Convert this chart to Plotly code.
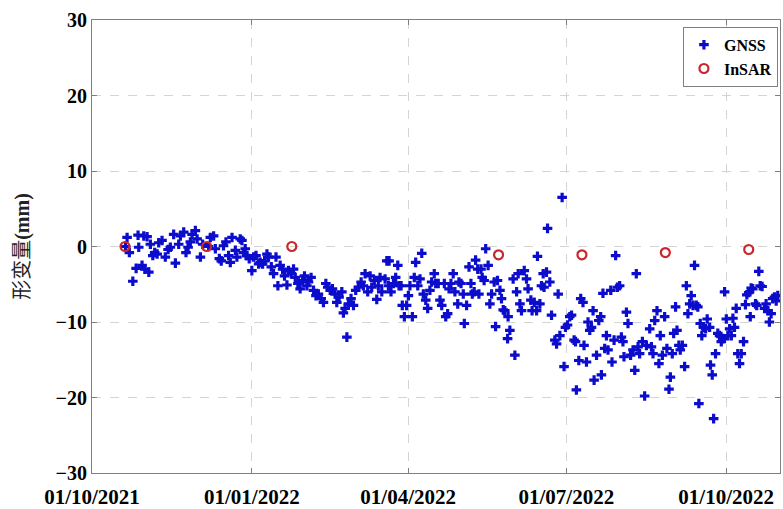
import pandas as pd
import plotly.graph_objects as go

START = "2021-10-01"

# GNSS: days since START, deformation (mm)
gnss_day = [
    19.3, 20.2, 21.5, 23.5, 25.4, 26.5, 26.9, 28.8, 29.8, 30.4, 31.7, 32.7, 33.6, 35.0, 36.1,
    37.5, 38.4, 40.3, 42.2, 43.8, 45.1, 47.0, 48.0, 49.9, 50.9, 52.8, 54.1, 55.3, 56.6, 57.6,
    59.5, 60.5, 62.4, 63.7, 67.1, 68.1, 70.0, 71.0, 73.3, 74.4, 75.7, 77.1, 78.6, 79.6, 80.6,
    82.5, 83.4, 85.3, 86.3, 87.2,
    88.2, 89.2, 90.5, 92.0, 93.0, 94.4, 95.9, 96.8, 98.2, 99.3, 100.7, 101.6, 103.2, 104.5,
    105.9, 107.0, 108.3, 109.7, 110.8, 112.2, 113.1, 114.7, 116.0, 117.0, 118.5, 119.8, 121.2,
    122.3, 123.7, 124.6, 126.1, 127.5, 128.9, 130.3, 131.9, 133.2, 134.6, 135.7, 137.1, 138.4,
    139.9, 140.9, 142.2, 143.8, 144.7, 145.7, 146.7, 147.6, 149.1, 150.5, 151.8, 153.3, 154.9,
    156.2, 157.2, 158.7, 160.1, 161.0, 162.5,
    163.9, 164.8, 165.8, 166.8, 168.7, 169.7, 170.6, 171.0, 172.1, 173.5, 174.8, 176.0, 176.7,
    177.9, 178.6, 179.8, 181.1, 182.1, 183.0, 184.4, 185.5, 186.3, 187.5, 188.8, 189.8, 190.7,
    192.1, 193.2, 194.5, 195.5, 197.0, 197.8, 199.3, 200.3, 201.3, 202.8, 203.6, 204.7, 205.5,
    206.6, 207.9, 208.9, 210.5, 211.2, 212.4, 213.7, 214.3, 215.6, 217.0, 218.1, 218.9, 220.0,
    220.8, 222.0, 222.7, 223.9, 224.6, 225.7, 226.6, 228.0, 229.0, 230.0, 231.5, 232.3, 233.4,
    234.8, 235.7, 236.7,
    237.6, 239.2, 239.5, 240.5, 242.4, 243.4, 244.4, 245.3, 246.3, 247.2, 248.8, 250.1, 251.0,
    252.6, 253.3, 254.5, 255.9, 256.4, 257.8, 258.7, 259.7, 260.2, 261.6, 262.2, 263.5, 264.5,
    266.4, 267.4, 268.3, 269.3, 270.6, 271.7, 272.5, 273.7, 275.0, 276.0, 277.5, 278.3, 278.8,
    280.2, 281.3, 282.6, 283.2, 284.6, 285.5, 286.5, 287.5, 288.4, 289.0, 290.4, 291.7, 292.8,
    293.2, 294.1, 295.1, 296.1, 297.0, 298.6, 299.3, 300.5, 301.4, 302.4, 303.7, 304.7, 305.6,
    306.2, 307.6, 308.5, 310.0, 311.4, 312.4, 313.3, 314.3,
    315.2, 316.8, 318.1, 319.1, 321.0, 322.0, 322.9, 323.9, 325.2, 326.3, 327.1, 328.3, 329.6,
    330.9, 332.1, 332.9, 334.0, 334.8, 335.9, 336.7, 337.8, 338.6, 339.8, 341.1, 342.1, 343.0,
    344.0, 344.9, 345.9, 346.8, 347.8, 348.7, 349.3, 350.1, 351.0, 352.0, 353.2, 354.1, 355.5,
    356.0, 357.0, 357.8, 358.9, 360.2, 361.2, 362.2, 363.1, 364.1, 365.1, 366.0, 367.0, 368.0,
    368.9, 369.8, 370.8, 371.7, 372.7, 373.7, 375.0, 376.1, 376.9, 378.0, 378.9, 379.4, 380.3,
    381.9, 382.6, 383.8, 384.6, 385.7, 387.1, 388.0, 389.0, 389.9, 390.9, 391.8, 392.8, 393.8,
    394.7,
]
gnss_mm = [
    0.0, 1.2, -0.8, -4.6, -2.9, 1.5, -0.1, -2.5, 1.4, -3.0, 1.3, -3.4, 0.3, -1.2, -0.8,
    -1.0, 0.5, 0.8, -1.4, -0.4, -0.1, 1.6, -2.2, 0.3, 1.4, 1.9, -0.8, -0.1, 0.6, 1.6,
    2.1, 1.0, -1.4, 0.3, 0.0, 1.2, 1.4, -0.3, -1.6, -1.9, 0.1, 0.6, -1.2, -2.1, 1.2,
    -0.5, -1.4, 1.0, 0.8, -0.8,
    -0.3, -1.2, -1.6, -3.2, -1.4, -1.2, -2.3, -2.1, -2.3, -1.9, -1.0, -1.4, -2.7, -3.6,
    -1.4, -5.2, -2.5, -3.0, -3.9, -5.1, -3.2, -3.6, -3.0, -4.1, -4.9, -5.6, -4.5,
    -3.9, -5.2, -4.7, -4.1, -5.8, -6.5, -6.3, -6.9, -7.4, -4.9, -5.4, -5.8, -5.6,
    -6.3, -7.4, -6.7, -6.0, -8.8, -8.2, -12.0, -7.6, -6.9, -7.8, -5.8, -5.4, -4.7,
    -5.2, -3.6, -6.0, -3.9, -5.4, -4.5,
    -7.0, -5.2, -4.1, -6.0, -4.3, -1.9, -5.2, -1.9, -6.0, -4.9, -4.1, -2.5, -5.2,
    -5.2, -7.8, -9.3, -7.8, -6.5, -5.2, -9.3, -4.1, -2.1, -5.2, -4.3, -0.9, -6.3,
    -7.1, -8.2, -5.8, -4.7, -3.6, -4.9, -4.9, -7.1, -7.8, -4.9, -9.3, -8.9, -5.6,
    -4.9, -3.6, -6.0, -7.6, -4.7, -4.9, -6.3, -10.2, -7.8, -2.7, -4.9, -6.3, -6.0,
    -1.8, -3.0, -6.3, -3.0, -4.1, -4.5, -0.3, -2.5, -7.6, -6.3, -4.7, -10.6, -4.5,
    -5.8, -6.9, -8.4,
    -8.5, -12.2, -9.3, -11.1, -4.3, -14.4, -6.0, -3.6, -7.6, -8.5, -3.2, -4.3, -5.6,
    -7.1, -8.5, -7.4, -8.5, -1.3, -7.6, -5.2, -3.6, -5.4, -3.4, 2.4, -4.7, -9.1,
    -12.4, -12.9, -6.3, -11.8, 6.5, -15.9, -10.7, -10.4, -9.3, -9.1, -12.4, -12.6, -19.0,
    -15.1, -6.9, -7.4, -13.1, -15.3, -10.0, -11.1, -10.7, -8.5, -17.7, -14.4, -9.8, -9.3,
    -17.0, -6.2, -13.5, -11.8, -13.7, -5.8, -15.3, -12.4, -1.2, -5.4, -5.2, -12.0, -12.6,
    -14.6, -8.7, -10.2, -14.4, -13.7, -16.4, -3.6, -13.3,
    -14.2, -12.6, -19.8, -13.1, -10.9, -13.3, -14.2, -9.8, -8.5, -15.5, -11.8, -14.4, -9.3,
    -13.5, -18.9, -17.3, -14.2, -11.5, -8.0, -11.1, -13.1, -13.7, -13.1, -15.9, -5.2, -8.9,
    -7.6, -6.5, -7.8, -2.5, -7.8, -8.0, -20.8, -10.2, -11.8, -10.7, -10.9, -9.6, -10.7,
    -15.7, -17.0, -22.8, -14.2, -11.5, -11.8, -12.6, -12.2, -6.0, -9.6, -11.8, -10.9, -11.8,
    -9.5, -10.7, -8.2, -14.2, -15.5, -14.2, -12.6, -7.7, -6.4, -6.1, -9.3, -5.5, -5.6,
    -7.6, -7.8, -3.3, -5.2, -5.3, -8.2, -7.6, -8.5, -10.0, -8.9, -6.9, -6.7, -7.2,
    -6.5,
]

# InSAR acquisitions
insar_date = ["2021-10-20", "2021-12-06", "2022-01-24", "2022-05-23",
              "2022-07-10", "2022-08-27", "2022-10-14"]
insar_mm = [0.0, 0.0, 0.0, -1.1, -1.1, -0.8, -0.4]

x_ticks = ["2021-10-01", "2022-01-01", "2022-04-01", "2022-07-01", "2022-10-01"]
x_range = ["2021-10-01", "2022-11-01"]
y_ticks = [-30, -20, -10, 0, 10, 20, 30]
y_range = [-30, 30]

gnss_x = pd.Timestamp(START) + pd.to_timedelta(gnss_day, unit="D")

fig = go.Figure()
fig.add_trace(go.Scatter(
    x=gnss_x, y=gnss_mm, mode="markers", name="GNSS",
    marker=dict(symbol="cross", size=8, color="#0C0CCC", line=dict(width=0)),
))
fig.add_trace(go.Scatter(
    x=pd.to_datetime(insar_date), y=insar_mm, mode="markers", name="InSAR",
    marker=dict(symbol="circle-open", size=9, color="#C8282D", line=dict(width=2.2, color="#C8282D")),
))

axis_common = dict(
    showline=True, linecolor="#808080", linewidth=1, mirror="ticks",
    ticks="inside", ticklen=5, tickcolor="#808080",
    showgrid=True, gridcolor="#d4d4d4", griddash="dash", gridwidth=1,
    zeroline=False, automargin=False,
)

fig.update_xaxes(
    type="date", range=x_range, tickvals=x_ticks, tickformat="%d/%m/%Y",
    tickfont=dict(family="Liberation Serif", size=21, color="black", weight="bold"),
    ticklabelstandoff=5,
    **axis_common,
)
fig.update_yaxes(
    range=y_range, tickvals=y_ticks,
    tickfont=dict(family="Liberation Serif", size=20, color="black", weight="bold"),
    title=dict(text="形变量<b>(mm)</b>", standoff=20,
               font=dict(family="Liberation Serif, Noto Sans CJK SC", size=20, color="#222222")),
    **axis_common,
)

fig.update_layout(
    width=783, height=509,
    margin=dict(l=92, r=3, t=20, b=36),
    plot_bgcolor="white", paper_bgcolor="white",
    showlegend=True,
    legend=dict(
        x=0.997, y=0.985, xanchor="right", yanchor="top",
        bgcolor="white", bordercolor="#808080", borderwidth=1,
        font=dict(family="Liberation Serif", size=16, color="black", weight="bold"),
        itemwidth=30, tracegroupgap=0,
    ),
)

fig.write_html("out.html")
